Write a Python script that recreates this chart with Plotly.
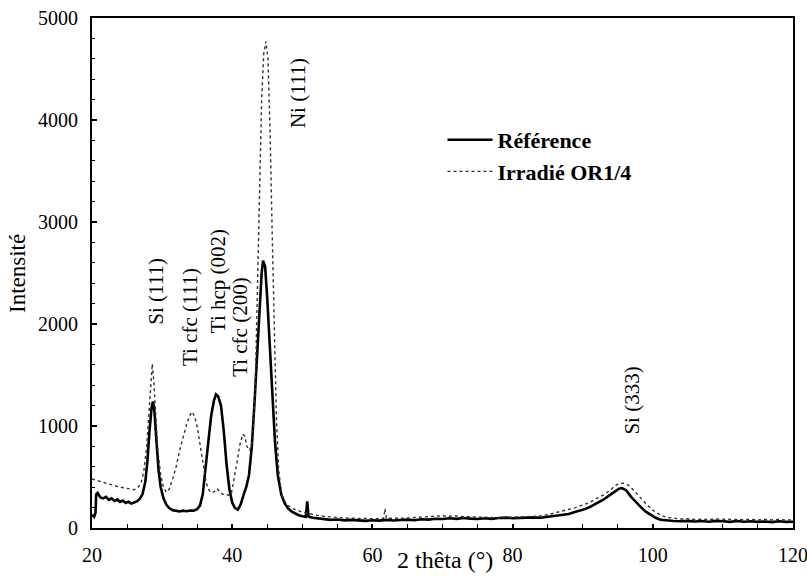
import plotly.graph_objects as go

# ---- data ----
ref_theta = [20.0, 20.3, 20.5, 20.6, 20.8, 21.2, 21.6, 22.0, 22.4, 22.8, 23.2, 23.6, 24.0, 24.4, 24.8,
             25.2, 25.6, 26.0, 26.4, 26.8, 27.2, 27.6, 27.9, 28.2, 28.5, 28.7, 28.9, 29.2, 29.5, 29.8,
             30.2, 30.6, 31.0, 31.5, 32.0, 32.5, 33.0, 33.5, 34.0, 34.5, 35.0, 35.4, 35.8, 36.2, 36.6,
             37.0, 37.4, 37.7, 38.0, 38.4, 38.8, 39.2, 39.6, 40.0, 40.4, 40.8, 41.2, 41.6, 42.0, 42.4,
             42.8, 43.2, 43.6, 44.0, 44.2, 44.4, 44.7, 45.0, 45.3, 45.7, 46.1, 46.5, 47.0, 47.5, 48.0,
             48.5, 49.0, 49.5, 50.0, 50.5, 50.7, 50.9, 51.5, 52.0, 53.0, 54.0, 55.0, 56.0, 57.0, 58.0,
             59.0, 60.0, 61.0, 62.0, 63.0, 64.0, 65.0, 66.0, 67.0, 68.0, 69.0, 70.0, 71.0, 72.0, 73.0,
             74.0, 75.0, 76.0, 77.0, 78.0, 79.0, 80.0, 81.0, 82.0, 83.0, 84.0, 85.0, 86.0, 87.0, 88.0,
             89.0, 90.0, 91.0, 92.0, 93.0, 94.0, 94.6, 95.2, 95.6, 96.2, 96.9, 97.6, 98.3, 99.0, 99.7,
             100.4, 101.1, 102.0, 103.0, 104.0, 105.0, 106.0, 107.0, 108.0, 109.0, 110.0, 111.0, 112.0,
             113.0, 114.0, 115.0, 116.0, 117.0, 118.0, 119.0, 120.0]
ref_int = [130, 110, 150, 330, 345, 300, 290, 305, 275, 290, 265, 280, 255, 270, 245,
           258, 240, 252, 260, 285, 330, 450, 650, 950, 1180, 1240, 1150, 850, 560, 400,
           290, 230, 195, 175, 168, 162, 170, 165, 172, 170, 185, 220, 330, 560, 850,
           1100, 1250, 1310, 1290, 1200, 950, 620, 380, 250, 195, 180, 230, 320, 400, 520,
           800, 1250, 1800, 2300, 2500, 2620, 2560, 2250, 1850, 1350, 850, 520, 330, 240, 190,
           160, 140, 125, 115, 110, 260, 110, 100, 95, 88, 80, 84, 75, 80, 78,
           70, 76, 72, 80, 74, 78, 82, 76, 86, 82, 90, 88, 96, 90, 98,
           92, 88, 95, 90, 98, 102, 96, 100, 98, 104, 100, 108, 118, 125, 138,
           160, 178, 205, 240, 280, 330, 360, 385, 392, 370, 305, 250, 205, 160, 127,
           100, 80, 72, 68, 66, 70, 64, 68, 62, 70, 66, 60, 68,
           62, 66, 60, 64, 58, 66, 60, 62]

irr_theta = [20.0, 20.5, 21.0, 21.5, 22.0, 22.5, 23.0, 23.5, 24.0, 24.5, 25.0, 25.5, 26.0, 26.5, 27.0,
             27.4, 27.8, 28.1, 28.4, 28.6, 28.8, 29.1, 29.4, 29.8, 30.2, 30.6, 31.0, 31.5, 32.0, 32.5,
             33.0, 33.5, 34.0, 34.3, 34.7, 35.1, 35.5, 35.9, 36.3, 36.7, 37.1, 37.5, 37.9, 38.3, 38.7,
             39.1, 39.5, 39.9, 40.3, 40.7, 41.1, 41.5, 41.8, 42.1, 42.5, 42.9, 43.3, 43.6, 43.9, 44.2,
             44.5, 44.8, 45.1, 45.4, 45.7, 46.0, 46.3, 46.6, 47.0, 47.5, 48.0, 48.5, 49.0, 49.5, 50.0,
             50.5, 51.0, 52.0, 53.0, 54.0, 55.0, 56.0, 57.0, 58.0, 59.0, 60.0, 61.0, 61.6, 61.8, 62.0,
             63.0, 64.0, 65.0, 66.0, 67.0, 68.0, 69.0, 70.0, 71.0, 72.0, 73.0, 74.0, 75.0, 76.0, 77.0,
             78.0, 79.0, 80.0, 81.0, 82.0, 83.0, 84.0, 85.0, 86.0, 87.0, 88.0, 89.0, 90.0, 91.0, 92.0,
             93.0, 94.0, 94.6, 95.2, 95.8, 96.5, 97.3, 98.2, 99.2, 100.1, 101.1, 102.0, 103.0, 104.0,
             105.0, 106.0, 107.0, 108.0, 109.0, 110.0, 111.0, 112.0, 113.0, 114.0, 115.0, 116.0, 117.0,
             118.0, 119.0, 120.0]
irr_int = [480, 470, 455, 450, 440, 430, 420, 410, 400, 395, 385, 382, 375, 392, 440,
           560, 800, 1150, 1500, 1610, 1450, 1050, 750, 520, 400, 350, 380, 480, 600, 760,
           900, 1020, 1110, 1140, 1080, 960, 780, 600, 440, 370, 345, 360, 385, 345, 330,
           335, 320, 345, 480, 650, 820, 920, 900, 800, 760, 850, 1400, 2300, 3300, 4200,
           4650, 4770, 4600, 3900, 2900, 1900, 1100, 600, 340, 260, 220, 195, 180, 165, 155,
           150, 140, 125, 115, 108, 102, 98, 96, 94, 92, 95, 90, 95, 190, 95,
           92, 96, 98, 102, 106, 110, 116, 120, 115, 118, 112, 110, 106, 104, 100,
           100, 104, 105, 108, 110, 114, 120, 130, 148, 165, 180, 200, 225, 250, 290,
           325, 375, 415, 435, 440, 420, 370, 300, 225, 170, 127, 105, 95, 88,
           90, 84, 86, 82, 88, 86, 80, 84, 82, 86, 78, 84, 80,
           85, 78, 80]

x_ticks = [20, 40, 60, 80, 100, 120]
y_ticks = [0, 1000, 2000, 3000, 4000, 5000]

peak_labels = ["Si (111)", "Ti cfc (111)", "Ti hcp (002)", "Ti cfc (200)", "Ni (111)", "Si (333)"]
peak_x = [29.1, 34.0, 38.0, 41.1, 49.4, 96.9]
peak_y = [2324, 2069, 2422, 1971, 4265, 1250]

series_names = ["Référence", "Irradié OR1/4"]

SERIF = "Liberation Serif, Times New Roman, serif"

fig = go.Figure()
fig.add_trace(go.Scatter(x=ref_theta, y=ref_int, mode="lines", name=series_names[0],
                         line=dict(color="black", width=2.6)))
fig.add_trace(go.Scatter(x=irr_theta, y=irr_int, mode="lines", name=series_names[1],
                         line=dict(color="#333333", width=1.4, dash="dot")))

for txt, px, py in zip(peak_labels, peak_x, peak_y):
    fig.add_annotation(x=px, y=py, text=txt, textangle=-90, showarrow=False,
                       xanchor="center", yanchor="middle",
                       font=dict(family=SERIF, size=21, color="black"))

fig.add_annotation(xref="paper", yref="paper", x=0.5036, y=-0.0627, text="2 thêta (°)",
                   showarrow=False, xanchor="center", yanchor="middle",
                   font=dict(family=SERIF, size=24, color="black"))
fig.add_annotation(xref="paper", yref="paper", x=-0.107, y=0.5, text="Intensité",
                   textangle=-90, showarrow=False, xanchor="center", yanchor="middle",
                   font=dict(family=SERIF, size=23, color="black"))

fig.update_layout(
    width=807, height=576,
    margin=dict(l=92, r=14, t=18, b=48, autoexpand=False),
    paper_bgcolor="white", plot_bgcolor="white",
    font=dict(family=SERIF, color="black"),
    showlegend=True,
    legend=dict(x=0.50, y=0.802, xanchor="left", yanchor="top",
                bgcolor="rgba(0,0,0,0)", borderwidth=0, itemwidth=45,
                font=dict(family=SERIF, size=22, color="black", weight="bold"),
                tracegroupgap=0),
    xaxis=dict(range=[20, 120], tickvals=x_ticks, ticks="inside", ticklen=4, tickwidth=1.5,
               tickcolor="black", showline=True, linecolor="black", linewidth=2, mirror=True,
               showgrid=False, zeroline=False, ticklabelstandoff=8, ticklabeloverflow="allow",
               automargin=False,
               tickfont=dict(family=SERIF, size=20, color="black"),
               minor=dict(dtick=5, ticks="inside", ticklen=4, tickcolor="black", tickwidth=1.2)),
    yaxis=dict(range=[0, 5000], tickvals=y_ticks, ticks="inside", ticklen=5, tickwidth=1.5,
               tickcolor="black", showline=True, linecolor="black", linewidth=2, mirror=True,
               showgrid=False, zeroline=False, ticklabelstandoff=8, ticklabeloverflow="allow",
               automargin=False,
               tickfont=dict(family=SERIF, size=20, color="black"),
               minor=dict(dtick=200, ticks="inside", ticklen=3, tickcolor="black", tickwidth=1.2)),
)

fig.write_html("out.html", config={"displayModeBar": False},
               post_script="document.body.style.margin='0';document.body.style.overflow='hidden';")
